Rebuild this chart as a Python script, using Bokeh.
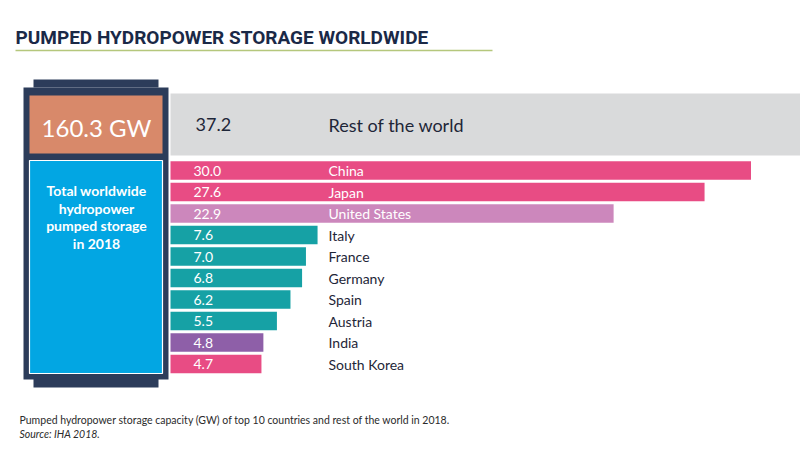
from bokeh.plotting import figure
from bokeh.models import Range1d, Label
from bokeh.core.properties import value
from bokeh.embed import file_html
from bokeh.resources import INLINE

# ---------------- data ----------------
countries = ["China", "Japan", "United States", "Italy", "France", "Germany",
             "Spain", "Austria", "India", "South Korea"]
capacity_gw = [30.0, 27.6, 22.9, 7.6, 7.0, 6.8, 6.2, 5.5, 4.8, 4.7]
bar_colors = ["#e84c84", "#e84c84", "#cc87bc", "#16a1a5", "#16a1a5", "#16a1a5",
              "#16a1a5", "#16a1a5", "#8e5fa8", "#e84c84"]
name_colors = ["white", "white", "white", "#1e2638", "#1e2638", "#1e2638",
               "#1e2638", "#1e2638", "#1e2638", "#1e2638"]
rest_label = "Rest of the world"
rest_gw = 37.2
total_label = "160.3 GW"
total_text = ["Total worldwide", "hydropower", "pumped storage", "in 2018"]
title_text = "PUMPED HYDROPOWER STORAGE WORLDWIDE"
note_text = "Pumped hydropower storage capacity (GW) of top 10 countries and rest of the world in 2018."
source_text = "Source: IHA 2018."

# ---------------- layout helpers (window pixels -> data units) ----------------
W, H = 800, 451
X0, PX_PER_GW = 170.0, 19.35
ROW0, PITCH = 170.0, 21.5


def gx(px):
    return (px - X0) / PX_PER_GW


def gy(py):
    return (py - ROW0) / PITCH


p = figure(width=W, height=H, output_backend="svg", toolbar_location=None,
           x_range=Range1d(gx(0), gx(W)), y_range=Range1d(gy(H), gy(0)),
           x_axis_location=None, y_axis_location=None, min_border=0,
           outline_line_color=None, background_fill_color="white",
           border_fill_color="white")
p.grid.visible = False

FONT = value("Lato")

# title + rule
p.add_layout(Label(x=gx(15), y=gy(37), text=title_text, text_font="Roboto",
                   text_font_style="bold", text_font_size="19px", text_color="#1a2947",
                   text_baseline="alphabetic"))
p.line([gx(15), gx(492)], [gy(50), gy(50)], line_color="#b5c77c", line_width=1.5)

# left "battery" box
p.quad(left=gx(33), right=gx(158), top=gy(79), bottom=gy(87), fill_color="#2c3c5a", line_color=None)
p.quad(left=gx(33), right=gx(158), top=gy(377), bottom=gy(387), fill_color="#2c3c5a", line_color=None)
p.quad(left=gx(23), right=gx(168), top=gy(87), bottom=gy(379), fill_color="#2c3c5a", line_color=None)
p.quad(left=gx(29), right=gx(162), top=gy(95), bottom=gy(153), fill_color="#d8896a", line_color=None)
p.quad(left=gx(29), right=gx(162), top=gy(160), bottom=gy(373), fill_color="#02a6e3",
       line_color="white", line_width=1.2)

p.add_layout(Label(x=gx(96), y=gy(127), text=total_label, text_font="Lato",
                   text_font_size="24px", text_color="white", text_align="center",
                   text_baseline="middle"))
for i, line in enumerate(total_text):
    p.add_layout(Label(x=gx(96), y=gy(190 + 17.5 * i), text=line, text_font="Lato",
                       text_font_style="bold", text_font_size="14px", text_color="white",
                       text_align="center", text_baseline="middle"))

# rest of world band
rest_y = gy(124)
p.hbar(y=[rest_y], left=0, right=[rest_gw], height=62 / PITCH, fill_color="#d9dadb", line_color=None)
p.text(x=[0], y=[rest_y], text=[f"{rest_gw:.1f}"], x_offset=25, text_font=FONT,
       text_font_size="18px", text_color="#1e2638", text_baseline="middle")
p.text(x=[gx(328)], y=[rest_y], text=[rest_label], text_font=FONT,
       text_font_size="18px", text_color="#1e2638", text_baseline="middle")

# country bars
rows = list(range(len(countries)))
p.hbar(y=rows, left=0, right=capacity_gw, height=18.5 / PITCH, fill_color=bar_colors, line_color=None)
p.text(x=[0] * len(rows), y=rows, text=[f"{v:.1f}" for v in capacity_gw], x_offset=23,
       text_font=FONT, text_font_size="14px", text_color="white", text_baseline="middle")
p.text(x=[gx(328)] * len(rows), y=rows, text=countries, text_font=FONT,
       text_font_size="14px", text_color=name_colors, text_baseline="middle")

# footnote
p.add_layout(Label(x=gx(19), y=gy(419), text=note_text, text_font="Lato",
                   text_font_size="10.5px", text_color="#2b2b2b", text_baseline="middle"))
p.add_layout(Label(x=gx(19), y=gy(433), text=source_text, text_font="Lato",
                   text_font_style="italic", text_font_size="10.5px", text_color="#2b2b2b",
                   text_baseline="middle"))

open("out.html", "w").write(file_html(p, INLINE))
